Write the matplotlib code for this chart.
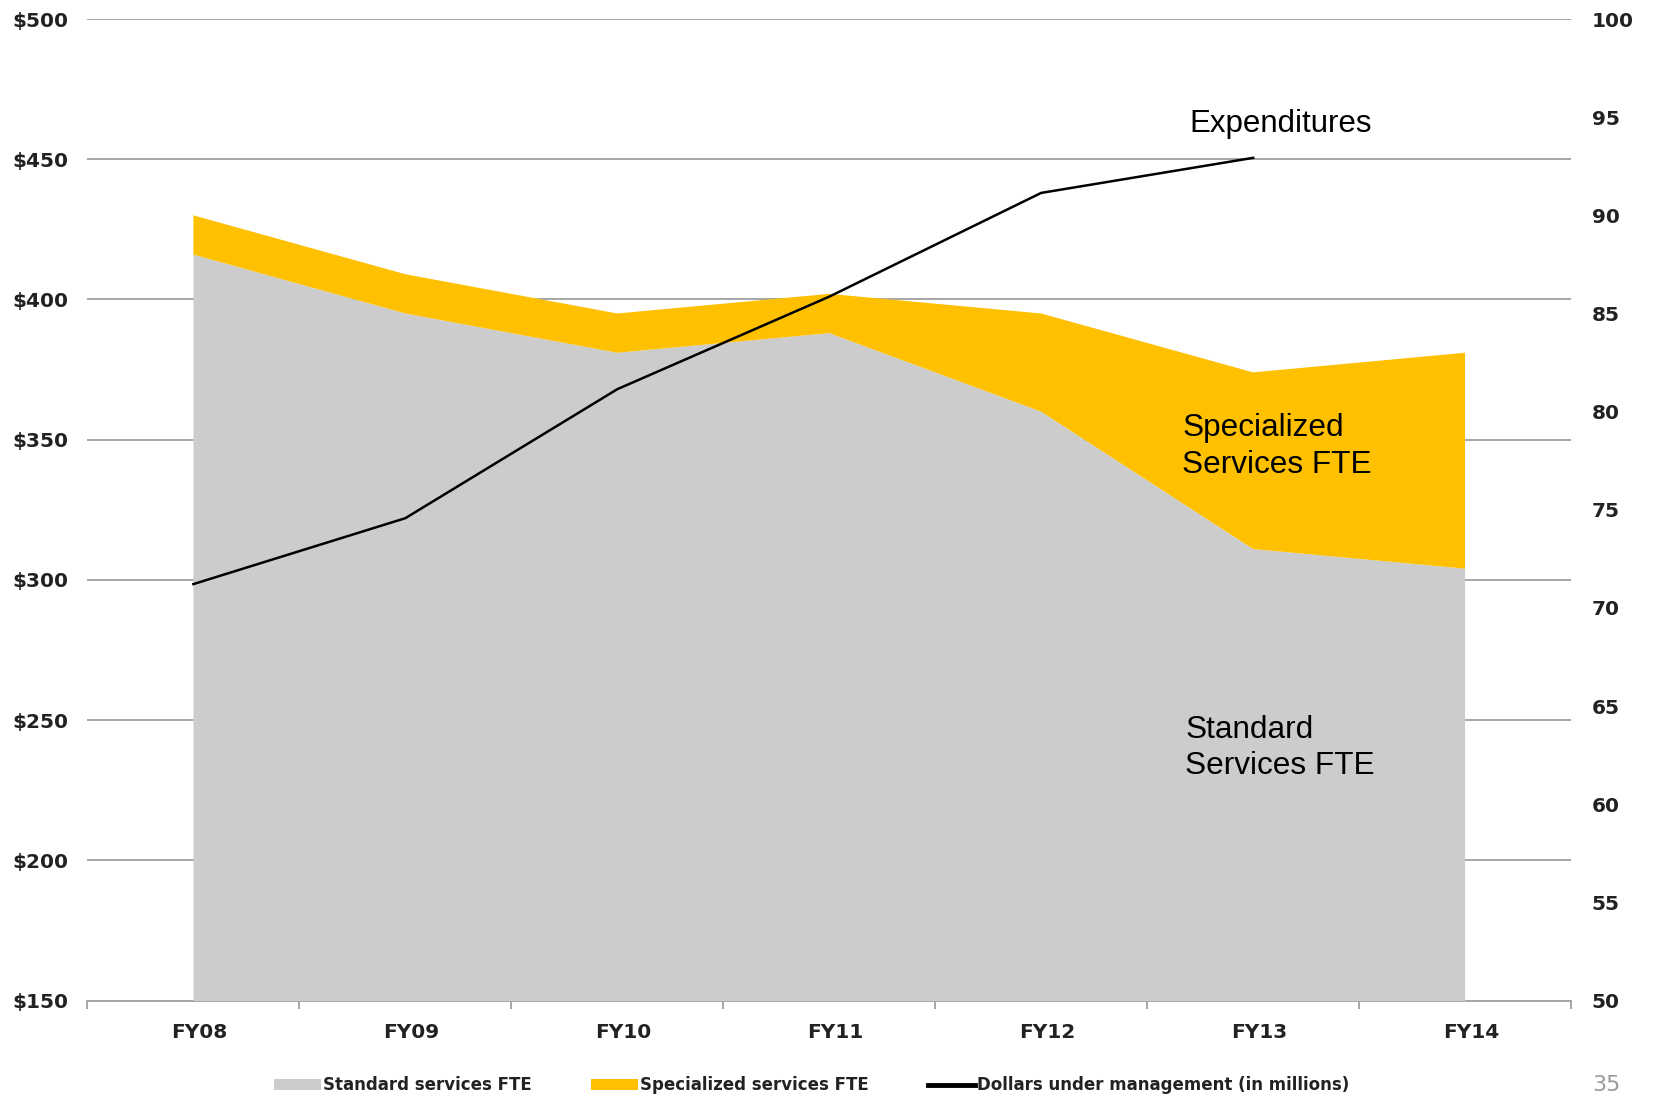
import matplotlib
matplotlib.use("Agg")
import matplotlib.pyplot as plt
import matplotlib.transforms as mtransforms
from matplotlib.patches import Patch
from matplotlib.lines import Line2D

years = ["FY08", "FY09", "FY10", "FY11", "FY12", "FY13", "FY14"]
standard_fte = [88, 85, 83, 84, 80, 73, 72]
specialized_fte = [2, 2, 2, 2, 5, 9, 11]
# dollars under management, FY08-FY13 only
dollars = [298.5, 322, 368, 401, 438, 450.5]

gray = "#cccccc"
gold = "#ffc000"
grid_col = "#a6a6a6"
txt = "#222222"

fig = plt.figure(figsize=(16.53, 10.95), dpi=100)
ax = fig.add_axes([0.0529, 0.0863, 0.8975, 0.8963])
x = list(range(len(years)))

# left axis: dollars, carries the gridlines
ax.set_xlim(-0.5, len(years) - 0.5)
ax.set_ylim(150, 500)
ax.set_yticks(range(150, 501, 50))
ax.set_yticklabels(["$%d" % v for v in range(150, 501, 50)])
ax.yaxis.grid(True, color=grid_col, linewidth=1.4)
ax.set_axisbelow(True)
for s in ["top", "left", "right"]:
    ax.spines[s].set_visible(False)
ax.spines["bottom"].set_color(grid_col)
ax.spines["bottom"].set_linewidth(1.4)
ax.tick_params(axis="y", length=0, pad=14, labelsize=14.5, labelcolor=txt)
for lab in ax.get_yticklabels():
    lab.set_fontweight("bold")

ax.set_xticks([i - 0.5 for i in range(len(years) + 1)])
ax.set_xticklabels([])
ax.set_xticks(x, minor=True)
ax.set_xticklabels(years, minor=True, fontsize=14.5, fontweight="bold", color=txt)
ax.tick_params(axis="x", which="major", length=6, color=grid_col, width=1.4)
ax.tick_params(axis="x", which="minor", length=0, pad=16)
shift = mtransforms.ScaledTranslation(6 / 100, 0, fig.dpi_scale_trans)
for lab in ax.get_xticklabels(minor=True):
    lab.set_transform(lab.get_transform() + shift)

# right axis: FTE stacked areas
ax2 = ax.twinx()
ax2.set_ylim(50, 100)
ax2.set_yticks(range(50, 101, 5))
ax2.tick_params(axis="y", length=0, pad=15, labelsize=14.5, labelcolor=txt)
for lab in ax2.get_yticklabels():
    lab.set_fontweight("bold")
for s in ax2.spines.values():
    s.set_visible(False)
ax2.stackplot(x, standard_fte, specialized_fte, colors=[gray, gold], linewidth=0)

# dollar line and area labels on top of the areas
ax3 = ax.twinx()
ax3.set_ylim(150, 500)
ax3.set_xlim(-0.5, len(years) - 0.5)
ax3.axis("off")
ax3.plot(x[:len(dollars)], dollars, color="black", linewidth=1.8)

ax3.text(4.70, 462.5, "Expenditures", fontsize=22.5, family="Liberation Sans",
         va="center", ha="left")
ax3.text(4.665, 347.5, "Specialized\nServices FTE", fontsize=22.7, family="Liberation Sans",
         va="center", ha="left", linespacing=1.28)
ax3.text(4.68, 240, "Standard\nServices FTE", fontsize=22.7, family="Liberation Sans",
         va="center", ha="left", linespacing=1.28)

handles = [Patch(facecolor=gray, edgecolor="none"),
           Patch(facecolor=gold, edgecolor="none"),
           Line2D([], [], color="black", linewidth=3.5)]
labels = ["Standard services FTE", "Specialized services FTE",
          "Dollars under management (in millions)"]
fig.legend(handles, labels, loc="center", bbox_to_anchor=(0.491, 0.009), ncol=3,
           frameon=False, handlelength=2.8, handleheight=0.6, handletextpad=0.1,
           columnspacing=3.6, prop={"weight": "bold", "size": 12}, labelcolor=txt)

fig.text(0.963, 0.0, "35", fontsize=16, color="#999999", va="bottom", ha="left")

fig.savefig("out.png", dpi=100)
